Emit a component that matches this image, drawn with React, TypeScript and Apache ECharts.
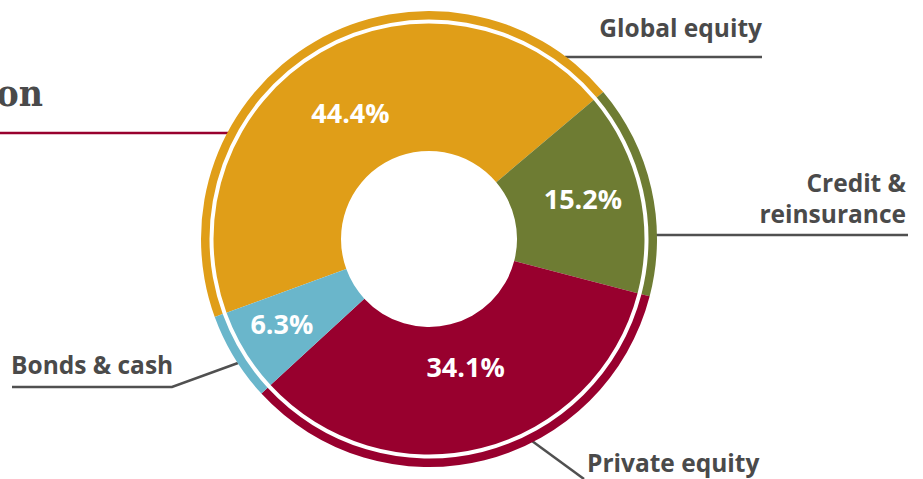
import React, { useEffect, useRef } from "react";
import * as echarts from "echarts";

const categories = ["Global equity", "Credit & reinsurance", "Private equity", "Bonds & cash"];
const labelTexts = ["Global equity", "Credit &\nreinsurance", "Private equity", "Bonds & cash"];
const values = [44.4, 15.2, 34.1, 6.3];
const colors = ["#E09E18", "#6E7C33", "#98002E", "#6AB6CB"];
const title = "Asset allocation";

const CX = 429;
const CY = 239;
const FONT = "'Open Sans', Lato, sans-serif";
const GRAY = "#4a4a4a";
const LINE = "#505050";

export default function App() {
  const ref = useRef<HTMLDivElement>(null);
  useEffect(() => {
    if (!ref.current) return;
    const chart = echarts.init(ref.current, null, { renderer: "svg" });
    const offsets = [[-1, 7], [3, -6], [-1, -23], [-15, 4]];
    const innerData = categories.map((c, i) => ({
      name: c,
      value: values[i],
      itemStyle: { color: colors[i] },
      label: { offset: offsets[i] },
    }));
    const ringData = categories.map((c, i) => ({
      name: c,
      value: values[i],
      itemStyle: { color: colors[i] },
    }));
    const line = (pts: number[][], color = LINE, w = 2.5) => ({
      type: "polyline",
      shape: { points: pts },
      style: { stroke: color, lineWidth: w, fill: null },
      silent: true,
    });
    const txt = (text: string, x: number, y: number, align: string, extra: any = {}) => ({
      type: "text",
      x,
      y,
      style: {
        text,
        fill: GRAY,
        font: `bold 24.5px ${FONT}`,
        textAlign: align,
        textVerticalAlign: "bottom",
        lineHeight: 31,
        ...extra,
      },
      silent: true,
    });
    chart.setOption({
      animation: false,
      backgroundColor: "#ffffff",
      series: [
        {
          type: "pie",
          center: [CX, CY],
          radius: [219.5, 228],
          startAngle: 200,
          clockwise: true,
          silent: true,
          label: { show: false },
          labelLine: { show: false },
          data: ringData,
        },
        {
          type: "pie",
          center: [CX, CY],
          radius: [88, 215.5],
          startAngle: 200,
          clockwise: true,
          silent: true,
          label: {
            show: true,
            position: "inside",
            color: "#ffffff",
            fontFamily: FONT,
            fontWeight: "bold",
            fontSize: 27,
            formatter: (p: any) => `${Number(p.value).toFixed(1)}%`,
          },
          labelLine: { show: false },
          data: innerData,
        },
      ],
      graphic: [
        {
          type: "text",
          x: 43,
          y: 111,
          style: {
            text: title,
            fill: GRAY,
            font: "bold 37px 'DejaVu Serif Condensed', 'DejaVu Serif', serif",
            textAlign: "right",
            textVerticalAlign: "bottom",
          },
          silent: true,
        },
        line([[0, 133], [232, 133]], "#98002E", 2.5),
        line([[565, 57], [762, 57]]),
        txt(labelTexts[0], 762, 43, "right"),
        line([[652, 235], [908, 235]]),
        txt(labelTexts[1], 906, 229, "right"),
        line([[12, 387], [172, 387], [238, 363]]),
        txt(labelTexts[3], 11, 380, "left"),
        line([[532, 441], [584, 479]]),
        txt(labelTexts[2], 587, 478, "left"),
      ],
    });
    return () => chart.dispose();
  }, []);
  return (
    <div
      ref={ref}
      style={{ position: "fixed", left: 0, top: 0, width: 923, height: 479 }}
    />
  );
}
